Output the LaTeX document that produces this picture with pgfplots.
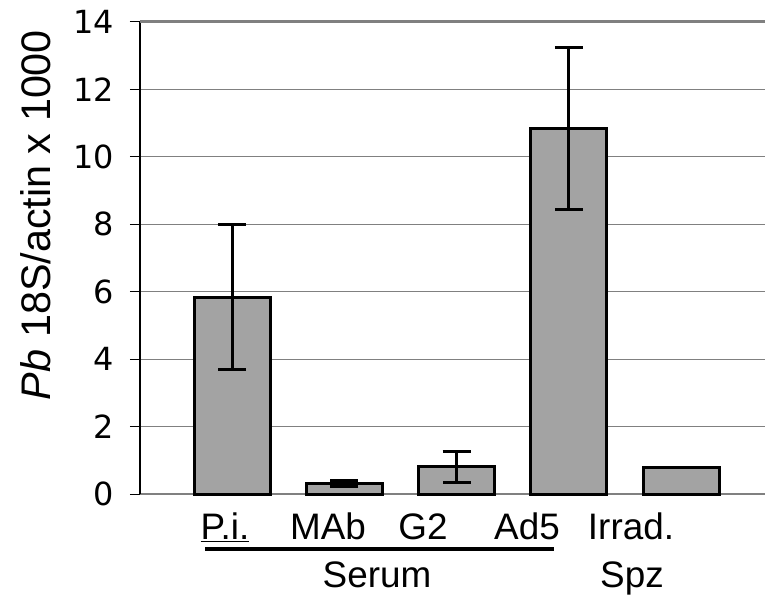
\documentclass[border=0pt]{standalone}
\usepackage{fontspec}
\setmainfont{Liberation Sans}
\newfontfamily\tickfont{DejaVu Sans}
\usepackage{pgfplots}
\pgfplotsset{compat=1.18}
\definecolor{barGray}{RGB}{163,163,163}
\definecolor{gridGray}{RGB}{128,128,128}
\begin{document}
\begin{tikzpicture}[x=1bp,y=1bp]
\useasboundingbox (-140,-106.7) rectangle (625,494.3);
\begin{axis}[
  at={(0,0)}, anchor=south west,
  scale only axis, width=625bp, height=472.6bp,
  xmin=-0.8196, xmax=4.748, ymin=0, ymax=14,
  axis x line*=bottom, axis y line*=left,
  axis line style={-},
  x axis line style={draw=gridGray, line width=1.8bp},
  y axis line style={draw=black, line width=1.3bp},
  xtick=\empty,
  ytick={0,2,...,14},
  ymajorgrids,
  grid style={draw=gridGray, line width=1.2bp},
  extra y ticks={14}, extra y tick labels={},
  extra y tick style={grid style={draw=gridGray, line width=2.5bp}},
  tick align=outside, major tick length=10bp,
  ytick style={draw=black, line width=1.3bp},
  /pgf/number format/assume math mode=true,
  yticklabel style={font=\tickfont\fontsize{32}{38}\selectfont, inner sep=0pt, xshift=-16bp},
  clip=false,
]
\addplot[ybar, bar width=76bp, fill=barGray, draw=black, line width=3bp,
  error bars/.cd, y dir=both, y explicit,
  error bar style={line width=3bp, draw=black},
  error mark options={rotate=90, mark size=14bp, line width=3bp, draw=black}]
  coordinates {
  (0,5.84) +- (0,2.14)
  (1,0.33) +- (0,0.085)
  (2,0.82) +- (0,0.46)
  (3,10.84) +- (0,2.40)
};
\addplot[ybar, bar width=76bp, fill=barGray, draw=black, line width=3bp]
  coordinates {(4,0.80)};
\end{axis}
\begin{scope}[every node/.style={font=\fontsize{37}{43}\selectfont, inner sep=0pt, anchor=base}]
\node at (85,-45.7) {\underline{P.i.}};
\node at (188,-45.7) {MAb};
\node at (283,-45.7) {G2};
\node at (387,-45.7) {Ad5};
\node at (491,-45.7) {Irrad.};
\node at (492,-93.7) {Spz};
\node at (237,-93.7) {Serum};
\end{scope}
\draw[line width=4.5bp] (65,-54.7) -- (414,-54.7);
\node[rotate=90, anchor=base, inner sep=0pt, font=\fontsize{41.5}{48}\selectfont] at (-89,279.3) {\textit{Pb} 18S/actin x 1000};
\end{tikzpicture}
\end{document}
